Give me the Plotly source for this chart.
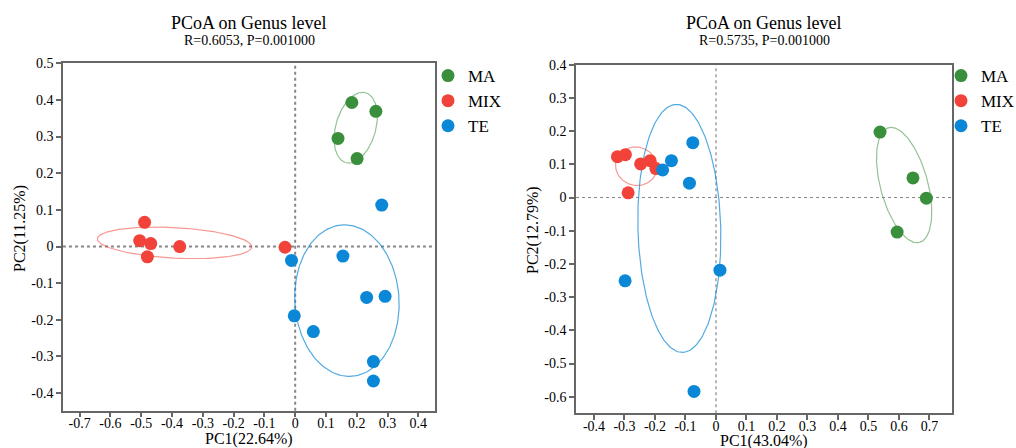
import numpy as np
import plotly.graph_objects as go

# ---------------- data ----------------
groups = ["MA", "MIX", "TE"]
colors = {"MA": "#3a8f3c", "MIX": "#f2433a", "TE": "#0a87d6"}
ell_colors = {"MA": "rgba(58,143,60,0.55)", "MIX": "rgba(242,67,58,0.55)", "TE": "rgba(10,135,214,0.7)"}

# Left panel (R=0.6053)
left_MA_x = [0.184, 0.262, 0.139, 0.201]
left_MA_y = [0.393, 0.369, 0.295, 0.240]
left_MIX_x = [-0.489, -0.505, -0.469, -0.480, -0.375, -0.033]
left_MIX_y = [0.066, 0.016, 0.008, -0.028, 0.000, -0.002]
left_TE_x = [0.281, -0.012, 0.155, 0.232, 0.292, -0.003, 0.059, 0.254, 0.254]
left_TE_y = [0.113, -0.038, -0.026, -0.139, -0.136, -0.189, -0.232, -0.314, -0.367]

# Right panel (R=0.5735)
right_MA_x = [0.538, 0.646, 0.690, 0.594]
right_MA_y = [0.197, 0.059, -0.002, -0.104]
right_MIX_x = [-0.323, -0.297, -0.247, -0.216, -0.197, -0.288]
right_MIX_y = [0.123, 0.129, 0.101, 0.111, 0.087, 0.014]
right_TE_x = [-0.175, -0.146, -0.076, -0.087, -0.298, 0.013, -0.072]
right_TE_y = [0.083, 0.111, 0.165, 0.043, -0.251, -0.219, -0.584]

left_title = "PCoA on Genus level"
left_sub = "R=0.6053, P=0.001000"
right_title = "PCoA on Genus level"
right_sub = "R=0.5735, P=0.001000"
left_xlabel, left_ylabel = "PC1(22.64%)", "PC2(11.25%)"
right_xlabel, right_ylabel = "PC1(43.04%)", "PC2(12.79%)"

left_xticks = [-0.7, -0.6, -0.5, -0.4, -0.3, -0.2, -0.1, 0, 0.1, 0.2, 0.3, 0.4]
left_xtext = ["-0.7", "-0.6", "-0.5", "-0.4", "-0.3", "-0.2", "-0.1", "0", "0.1", "0.2", "0.3", "0.4"]
left_yticks = [-0.4, -0.3, -0.2, -0.1, 0, 0.1, 0.2, 0.3, 0.4, 0.5]
left_ytext = ["-0.4", "-0.3", "-0.2", "-0.1", "0", "0.1", "0.2", "0.3", "0.4", "0.5"]
right_xticks = [-0.4, -0.3, -0.2, -0.1, 0, 0.1, 0.2, 0.3, 0.4, 0.5, 0.6, 0.7]
right_xtext = ["-0.4", "-0.3", "-0.2", "-0.1", "0", "0.1", "0.2", "0.3", "0.4", "0.5", "0.6", "0.7"]
right_yticks = [-0.6, -0.5, -0.4, -0.3, -0.2, -0.1, 0, 0.1, 0.2, 0.3, 0.4]
right_ytext = ["-0.6", "-0.5", "-0.4", "-0.3", "-0.2", "-0.1", "0", "0.1", "0.2", "0.3", "0.4"]

left_data = {"MA": (left_MA_x, left_MA_y), "MIX": (left_MIX_x, left_MIX_y), "TE": (left_TE_x, left_TE_y)}
right_data = {"MA": (right_MA_x, right_MA_y), "MIX": (right_MIX_x, right_MIX_y), "TE": (right_TE_x, right_TE_y)}

ELL_SCALE = 1.38
FONT = "Liberation Serif"


def ellipse(xs, ys, scale=ELL_SCALE, n=200):
    pts = np.vstack([xs, ys])
    mu = pts.mean(axis=1)
    cov = np.cov(pts)
    vals, vecs = np.linalg.eigh(cov)
    t = np.linspace(0, 2 * np.pi, n)
    circ = np.vstack([np.cos(t), np.sin(t)])
    e = vecs @ (np.sqrt(vals)[:, None] * circ) * scale
    return mu[0] + e[0], mu[1] + e[1]


fig = go.Figure()

for data, xa, ya, leg in [(left_data, "x", "y", "legend"), (right_data, "x2", "y2", "legend2")]:
    for g in groups:
        xs, ys = data[g]
        ex, ey = ellipse(xs, ys)
        fig.add_trace(go.Scatter(x=ex, y=ey, mode="lines", xaxis=xa, yaxis=ya,
                                 line=dict(color=ell_colors[g], width=1.2),
                                 showlegend=False, hoverinfo="skip"))
    for g in groups:
        xs, ys = data[g]
        fig.add_trace(go.Scatter(x=xs, y=ys, mode="markers", name=g, xaxis=xa, yaxis=ya,
                                 legend=leg,
                                 marker=dict(color=colors[g], size=13)))

W, H = 1016, 448
axis_common = dict(showgrid=False, zeroline=False, showline=True, linecolor="#666666",
                   linewidth=1.5, mirror=True, ticks="outside", ticklen=5, tickwidth=1.5,
                   automargin=False,
                   tickcolor="#666666", tickfont=dict(family=FONT, size=14, color="#000000"))

fig.update_layout(
    width=W, height=H, autosize=False,
    margin=dict(l=0, r=0, t=0, b=0, pad=0, autoexpand=False),
    paper_bgcolor="white", plot_bgcolor="white",
    font=dict(family=FONT),
    xaxis=dict(domain=[63 / W, 435 / W], range=[-0.754, 0.454], tickvals=left_xticks,
               ticktext=left_xtext, ticklabelstandoff=-6, anchor="y", **axis_common),
    yaxis=dict(domain=[1 - 410.7 / H, 1 - 63.3 / H], range=[-0.448, 0.5], tickvals=left_yticks,
               ticktext=left_ytext, anchor="x", **axis_common),
    xaxis2=dict(domain=[576 / W, 952 / W], range=[-0.459, 0.774], tickvals=right_xticks,
                ticktext=right_xtext, ticklabelstandoff=-6, anchor="y2", **axis_common),
    yaxis2=dict(domain=[1 - 413.3 / H, 1 - 64.7 / H], range=[-0.65, 0.4], tickvals=right_yticks,
                ticktext=right_ytext, anchor="x2", **axis_common),
    legend=dict(x=428 / W, y=1 - 58 / H, xanchor="left", yanchor="top", bgcolor="rgba(0,0,0,0)",
                font=dict(family=FONT, size=17, color="#000000"), itemwidth=30, tracegroupgap=0),
    legend2=dict(x=941 / W, y=1 - 58 / H, xanchor="left", yanchor="top", bgcolor="rgba(0,0,0,0)",
                 font=dict(family=FONT, size=17, color="#000000"), itemwidth=30, tracegroupgap=0),
    showlegend=True,
)

# dotted zero lines
for xr, yr, dash, lw in [("x", "y", "dot", 2), ("x2", "y2", "3px,3px", 1.2)]:
    fig.add_shape(type="line", xref=xr, yref=yr + " domain", x0=0, x1=0, y0=0, y1=1,
                  line=dict(color="#888888", width=lw, dash=dash), layer="below")
    fig.add_shape(type="line", xref=xr + " domain", yref=yr, x0=0, x1=1, y0=0, y1=0,
                  line=dict(color="#888888", width=lw, dash=dash), layer="below")

# titles
for cx, t, s in [((63 + 435) / 2 / W, left_title, left_sub), ((576 + 952) / 2 / W, right_title, right_sub)]:
    fig.add_annotation(x=cx, y=1 - 23 / H, xref="paper", yref="paper", text=t, showarrow=False,
                       font=dict(family=FONT, size=18, color="#000000"), xanchor="center", yanchor="middle")
    fig.add_annotation(x=cx, y=1 - 40 / H, xref="paper", yref="paper", text=s, showarrow=False,
                       font=dict(family=FONT, size=14, color="#000000"), xanchor="center", yanchor="middle")

# axis titles
for cx, cy, t in [((63 + 435) / 2 / W, 1 - 439 / H, left_xlabel), ((576 + 952) / 2 / W, 1 - 441 / H, right_xlabel)]:
    fig.add_annotation(x=cx, y=cy, xref="paper", yref="paper", text=t, showarrow=False,
                       font=dict(family=FONT, size=16, color="#000000"), xanchor="center", yanchor="middle")
for cx, cy, t in [(20 / W, 1 - 229 / H, left_ylabel), (533 / W, 1 - 230 / H, right_ylabel)]:
    fig.add_annotation(x=cx, y=cy, xref="paper", yref="paper", text=t, showarrow=False, textangle=-90,
                       font=dict(family=FONT, size=16, color="#000000"), xanchor="center", yanchor="middle")

fig.write_html("out.html", config={"displayModeBar": False},
               post_script="document.body.style.margin='0px';document.body.style.overflow='hidden';")
